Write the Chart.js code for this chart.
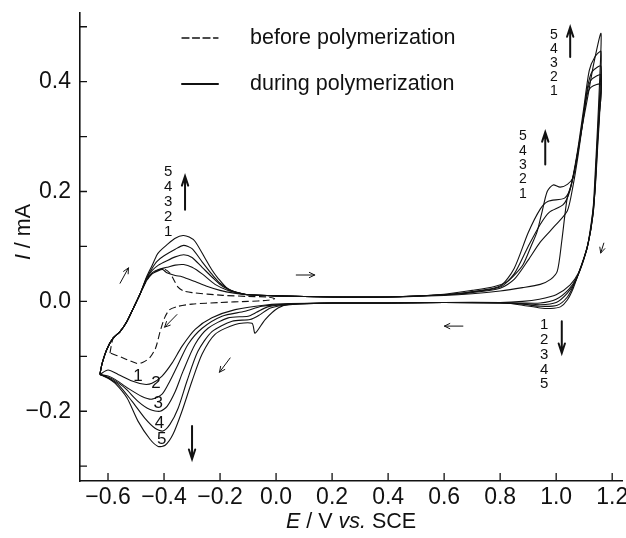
<!DOCTYPE html>
<html>
<head>
<meta charset="utf-8">
<script src="https://cdn.jsdelivr.net/npm/chart.js@4.4.1/dist/chart.umd.min.js"></script>
<style>
  html, body { margin: 0; padding: 0; background: #fff; }
  #wrap { width: 626px; height: 538px; }
</style>
</head>
<body>
<div id="wrap"><canvas id="cv"></canvas></div>
<script>
// axis ticks
const xTicks = [-0.6, -0.4, -0.2, 0.0, 0.2, 0.4, 0.6, 0.8, 1.0, 1.2];
const yTicks = [-0.3, -0.2, -0.1, 0.0, 0.1, 0.2, 0.3, 0.4, 0.5];
const yLabels = [-0.2, 0.0, 0.2, 0.4];

// [E / V, I / mA], in scan order
const before = [
  [-0.593,-0.094],[-0.582,-0.068],[-0.557,-0.055],[-0.532,-0.036],[-0.51,-0.013],[-0.486,0.013],
  [-0.462,0.038],[-0.44,0.052],[-0.415,0.058],[-0.396,0.058],[-0.38,0.052],[-0.371,0.045],
  [-0.35,0.026],[-0.33,0.019],[-0.3,0.016],[-0.19,0.011],[-0.1,0.009],[-0.03,0.008],[-0.005,0.005],
  [-0.03,0.002],[-0.1,0.0],[-0.2,-0.002],[-0.3,-0.005],[-0.35,-0.009],[-0.38,-0.015],[-0.398,-0.03],
  [-0.414,-0.055],[-0.43,-0.085],[-0.45,-0.102],[-0.475,-0.111],[-0.496,-0.113],[-0.546,-0.103],[-0.593,-0.094]
];

const cycle1 = [
  [-0.629,-0.133],[-0.621,-0.113],[-0.604,-0.087],[-0.582,-0.067],[-0.557,-0.055],[-0.532,-0.036],
  [-0.51,-0.013],[-0.486,0.013],[-0.462,0.038],[-0.443,0.05],[-0.42,0.056],[-0.405,0.058],[-0.39,0.052],
  [-0.36,0.047],[-0.336,0.045],[-0.289,0.036],[-0.25,0.028],[-0.2,0.02],[-0.15,0.015],[-0.1,0.012],
  [0.0,0.01],[0.2,0.008],[0.4,0.008],[0.6,0.011],[0.7,0.014],[0.8,0.019],[0.88,0.025],[0.943,0.031],
  [0.98,0.04],[1.004,0.055],[1.02,0.11],[1.039,0.187],[1.055,0.215],[1.075,0.262],[1.096,0.33],
  [1.11,0.375],[1.125,0.39],[1.16,0.395],
  [1.152,0.33],[1.145,0.27],[1.138,0.2],[1.128,0.15],[1.118,0.115],[1.1,0.08],[1.08,0.052],[1.05,0.03],
  [1.0,0.012],[0.94,0.004],[0.88,0.0],[0.8,-0.002],[0.6,-0.002],[0.4,-0.003],[0.2,-0.003],[0.05,-0.004],
  [-0.029,-0.006],[-0.146,-0.015],[-0.229,-0.03],[-0.289,-0.051],[-0.336,-0.082],[-0.371,-0.112],
  [-0.407,-0.136],[-0.443,-0.149],[-0.47,-0.151],[-0.514,-0.145],[-0.564,-0.133],[-0.6,-0.125],[-0.629,-0.133]
];

const cycle2 = [
  [-0.629,-0.133],[-0.621,-0.113],[-0.604,-0.087],[-0.582,-0.067],[-0.557,-0.055],[-0.532,-0.036],
  [-0.51,-0.013],[-0.486,0.013],[-0.462,0.04],[-0.443,0.052],[-0.42,0.058],[-0.39,0.062],[-0.36,0.066],
  [-0.33,0.067],[-0.3,0.062],[-0.264,0.05],[-0.218,0.031],[-0.171,0.02],[-0.13,0.015],[-0.1,0.012],
  [0.0,0.01],[0.2,0.008],[0.4,0.008],[0.6,0.012],[0.7,0.016],[0.8,0.024],[0.85,0.04],[0.9,0.075],
  [0.943,0.108],[1.0,0.14],[1.04,0.165],[1.06,0.21],[1.078,0.265],[1.096,0.33],[1.11,0.38],
  [1.125,0.403],[1.16,0.412],
  [1.155,0.34],[1.148,0.28],[1.14,0.21],[1.13,0.155],[1.116,0.11],[1.098,0.075],[1.075,0.045],
  [1.045,0.022],[1.0,0.004],[0.943,-0.003],[0.88,-0.003],[0.8,-0.002],[0.6,-0.002],[0.4,-0.003],
  [0.2,-0.003],[0.05,-0.005],[-0.05,-0.009],[-0.111,-0.018],[-0.193,-0.027],[-0.264,-0.049],
  [-0.314,-0.078],[-0.35,-0.115],[-0.379,-0.145],[-0.407,-0.169],[-0.443,-0.178],[-0.479,-0.173],
  [-0.529,-0.158],[-0.575,-0.142],[-0.6,-0.136],[-0.629,-0.133]
];

const cycle3 = [
  [-0.629,-0.133],[-0.621,-0.113],[-0.604,-0.087],[-0.582,-0.067],[-0.557,-0.055],[-0.532,-0.036],
  [-0.51,-0.013],[-0.486,0.013],[-0.462,0.042],[-0.443,0.056],[-0.42,0.066],[-0.39,0.074],[-0.36,0.081],
  [-0.33,0.085],[-0.3,0.08],[-0.264,0.062],[-0.22,0.04],[-0.19,0.027],[-0.15,0.018],[-0.1,0.012],
  [0.0,0.01],[0.2,0.008],[0.4,0.008],[0.6,0.012],[0.7,0.017],[0.8,0.026],[0.85,0.05],[0.9,0.1],
  [0.943,0.14],[0.975,0.162],[1.025,0.176],[1.048,0.2],[1.075,0.265],[1.096,0.335],[1.112,0.39],
  [1.128,0.418],[1.16,0.428],
  [1.155,0.35],[1.148,0.29],[1.14,0.215],[1.132,0.16],[1.114,0.105],[1.094,0.07],[1.07,0.038],
  [1.04,0.015],[1.0,-0.002],[0.943,-0.006],[0.88,-0.004],[0.8,-0.003],[0.6,-0.002],[0.4,-0.003],
  [0.2,-0.003],[0.05,-0.005],[-0.03,-0.01],[-0.07,-0.02],[-0.1,-0.027],[-0.171,-0.03],[-0.243,-0.049],
  [-0.289,-0.078],[-0.332,-0.127],[-0.36,-0.164],[-0.389,-0.191],[-0.414,-0.2],[-0.45,-0.197],
  [-0.493,-0.182],[-0.539,-0.158],[-0.582,-0.142],[-0.6,-0.138],[-0.629,-0.133]
];

const cycle4 = [
  [-0.629,-0.133],[-0.621,-0.113],[-0.604,-0.087],[-0.582,-0.067],[-0.557,-0.055],[-0.532,-0.036],
  [-0.51,-0.013],[-0.486,0.013],[-0.462,0.043],[-0.443,0.06],[-0.425,0.073],[-0.4,0.083],[-0.36,0.095],
  [-0.33,0.102],[-0.3,0.096],[-0.264,0.072],[-0.23,0.05],[-0.2,0.033],[-0.16,0.02],[-0.12,0.014],
  [-0.1,0.012],[0.0,0.01],[0.2,0.008],[0.4,0.008],[0.6,0.012],[0.7,0.018],[0.8,0.028],[0.85,0.06],
  [0.9,0.125],[0.943,0.168],[0.97,0.182],[1.03,0.188],[1.05,0.205],[1.075,0.27],[1.098,0.35],
  [1.118,0.42],[1.138,0.445],[1.16,0.455],
  [1.155,0.37],[1.148,0.3],[1.14,0.225],[1.132,0.16],[1.112,0.1],[1.09,0.065],[1.065,0.032],
  [1.04,0.008],[1.004,-0.007],[0.943,-0.009],[0.88,-0.005],[0.8,-0.003],[0.6,-0.002],[0.4,-0.003],
  [0.2,-0.003],[0.05,-0.006],[-0.02,-0.012],[-0.06,-0.025],[-0.093,-0.033],[-0.157,-0.036],
  [-0.229,-0.055],[-0.279,-0.091],[-0.318,-0.145],[-0.35,-0.195],[-0.379,-0.224],[-0.404,-0.236],
  [-0.432,-0.231],[-0.468,-0.213],[-0.514,-0.182],[-0.564,-0.151],[-0.6,-0.139],[-0.629,-0.133]
];

const cycle5 = [
  [-0.629,-0.133],[-0.621,-0.113],[-0.604,-0.087],[-0.582,-0.067],[-0.557,-0.055],[-0.532,-0.036],
  [-0.51,-0.013],[-0.486,0.013],[-0.462,0.045],[-0.443,0.065],[-0.425,0.085],[-0.414,0.092],
  [-0.39,0.103],[-0.36,0.115],[-0.332,0.12],[-0.31,0.117],[-0.289,0.109],[-0.254,0.079],[-0.23,0.058],
  [-0.207,0.042],[-0.171,0.022],[-0.136,0.015],[-0.1,0.012],[0.0,0.01],[0.2,0.008],[0.4,0.008],
  [0.6,0.013],[0.7,0.02],[0.78,0.027],[0.825,0.036],[0.855,0.05],[0.882,0.067],[0.91,0.1],
  [0.932,0.127],[0.95,0.164],[0.968,0.2],[0.989,0.212],[1.014,0.208],[1.04,0.213],[1.06,0.225],
  [1.075,0.267],[1.096,0.327],[1.114,0.376],[1.135,0.435],[1.16,0.488],
  [1.155,0.4],[1.148,0.32],[1.14,0.24],[1.132,0.17],[1.12,0.125],[1.11,0.096],[1.086,0.06],
  [1.061,0.024],[1.039,0.002],[1.015,-0.01],[0.98,-0.013],[0.943,-0.012],[0.88,-0.007],[0.82,-0.003],
  [0.6,-0.002],[0.4,-0.003],[0.2,-0.003],[0.05,-0.005],[0.007,-0.012],[-0.039,-0.033],[-0.075,-0.058],
  [-0.086,-0.04],[-0.146,-0.042],[-0.218,-0.06],[-0.264,-0.096],[-0.3,-0.145],[-0.336,-0.2],
  [-0.368,-0.242],[-0.396,-0.262],[-0.421,-0.264],[-0.45,-0.251],[-0.493,-0.218],[-0.532,-0.176],
  [-0.575,-0.149],[-0.6,-0.14],[-0.629,-0.133]
];

// cycle numbers and arrows written on the plot (data coordinates)
const notes = [
  // upper left stack
  ['5',-0.385,0.236,15],['4',-0.385,0.209,15],['3',-0.385,0.181,15],['2',-0.385,0.154,15],['1',-0.385,0.127,15],
  // cathodic peaks
  ['1',-0.493,-0.136,17],['2',-0.429,-0.149,17],['3',-0.421,-0.186,17],['4',-0.416,-0.222,17],['5',-0.408,-0.252,17],
  // upper right stack
  ['5',0.992,0.485,14],['4',0.992,0.459,14],['3',0.992,0.433,14],['2',0.992,0.408,14],['1',0.992,0.382,14],
  // middle right stack
  ['5',0.881,0.300,14],['4',0.881,0.274,14],['3',0.881,0.248,14],['2',0.881,0.222,14],['1',0.881,0.196,14],
  // lower right stack
  ['1',0.957,-0.043,15],['2',0.957,-0.070,15],['3',0.957,-0.097,15],['4',0.957,-0.124,15],['5',0.957,-0.151,15]
];
const arrows = [
  // [E0, I0, E1, I1, bold]
  [-0.325,0.167,-0.325,0.228,true],
  [-0.30,-0.227,-0.30,-0.287,true],
  [1.05,0.445,1.05,0.499,true],
  [0.961,0.249,0.961,0.308,true],
  [1.02,-0.036,1.02,-0.094,true],
  [-0.557,0.033,-0.527,0.061,false],
  [0.072,0.048,0.138,0.048,false],
  [-0.354,-0.024,-0.398,-0.047,false],
  [-0.164,-0.103,-0.202,-0.129,false],
  [0.667,-0.045,0.601,-0.045,false],
  [1.17,0.106,1.159,0.088,false]
];

const ink = '#111';
const fam = '"Liberation Sans", Arial, Helvetica, sans-serif';

function fmt(v) {
  const s = Math.abs(v) < 1e-9 ? '0.0' : v.toFixed(1);
  return s.replace('-', '\u2212');
}

function richText(ctx, parts, cx, cy, size) {
  let w = 0;
  parts.forEach(p => {
    ctx.font = (p[1] ? 'italic ' : '') + size + 'px ' + fam;
    w += ctx.measureText(p[0]).width;
  });
  let x0 = cx - w / 2;
  ctx.textAlign = 'left';
  ctx.textBaseline = 'middle';
  parts.forEach(p => {
    ctx.font = (p[1] ? 'italic ' : '') + size + 'px ' + fam;
    ctx.fillText(p[0], x0, cy);
    x0 += ctx.measureText(p[0]).width;
  });
}

function arrow(ctx, x0, y0, x1, y1, bold) {
  const ang = Math.atan2(y1 - y0, x1 - x0);
  const len = bold ? 10 : 6;
  const spread = bold ? 0.32 : 0.45;
  ctx.lineWidth = bold ? 2 : 1;
  ctx.beginPath();
  ctx.moveTo(x0, y0);
  ctx.lineTo(x1, y1);
  ctx.moveTo(x1 - len * Math.cos(ang - spread), y1 - len * Math.sin(ang - spread));
  ctx.lineTo(x1, y1);
  ctx.lineTo(x1 - len * Math.cos(ang + spread), y1 - len * Math.sin(ang + spread));
  ctx.stroke();
}

const decorations = {
  id: 'decorations',
  afterDraw(chart) {
    const { ctx, chartArea: a } = chart;
    const x = chart.scales.x, y = chart.scales.y;
    ctx.save();
    ctx.strokeStyle = ink;
    ctx.fillStyle = ink;

    // inward tick marks
    ctx.lineWidth = 1.3;
    ctx.beginPath();
    x.ticks.forEach(t => {
      const px = x.getPixelForValue(t.value);
      ctx.moveTo(px, a.bottom);
      ctx.lineTo(px, a.bottom - 8);
    });
    y.ticks.forEach(t => {
      const py = y.getPixelForValue(t.value);
      ctx.moveTo(a.left, py);
      ctx.lineTo(a.left + 7, py);
    });
    ctx.stroke();

    // arrows
    ctx.lineCap = 'round';
    arrows.forEach(r => arrow(ctx, x.getPixelForValue(r[0]), y.getPixelForValue(r[1]),
      x.getPixelForValue(r[2]), y.getPixelForValue(r[3]), r[4]));

    // cycle numbers
    ctx.textAlign = 'center';
    ctx.textBaseline = 'middle';
    notes.forEach(n => {
      ctx.font = n[3] + 'px ' + fam;
      ctx.fillText(n[0], x.getPixelForValue(n[1]), y.getPixelForValue(n[2]));
    });

    // legend
    const items = chart.data.datasets.filter(d => d.legend);
    items.forEach((d, i) => {
      const ly = 38 + i * 46;
      ctx.lineWidth = d.legendWidth;
      ctx.setLineDash(d.borderDash || []);
      ctx.beginPath();
      ctx.moveTo(182, ly);
      ctx.lineTo(218, ly);
      ctx.stroke();
      ctx.setLineDash([]);
      ctx.font = '21.5px ' + fam;
      ctx.textAlign = 'left';
      ctx.textBaseline = 'middle';
      ctx.fillText(d.label, 250, ly);
    });

    // axis titles
    richText(ctx, [['E', true], [' / V ', false], ['vs.', true], [' SCE', false]], 351, 522, 21.5);
    ctx.save();
    ctx.translate(24, 232);
    ctx.rotate(-Math.PI / 2);
    richText(ctx, [['I', true], [' / mA', false]], 0, 0, 21.5);
    ctx.restore();

    ctx.restore();
  }
};

function curve(label, pts, dash, legend) {
  return {
    label: label,
    data: pts.map(p => ({ x: p[0], y: p[1] })),
    showLine: true,
    borderColor: ink,
    borderWidth: 1.1,
    borderDash: dash,
    pointRadius: 0,
    tension: 0.25,
    fill: false,
    legend: legend,
    legendWidth: dash.length ? 1.3 : 2
  };
}

new Chart(document.getElementById('cv'), {
  type: 'scatter',
  data: {
    datasets: [
      curve('before polymerization', before, [7, 3.5], true),
      curve('during polymerization', cycle1, [], true),
      curve('cycle 2', cycle2, [], false),
      curve('cycle 3', cycle3, [], false),
      curve('cycle 4', cycle4, [], false),
      curve('cycle 5', cycle5, [], false)
    ]
  },
  options: {
    responsive: true,
    maintainAspectRatio: false,
    animation: false,
    devicePixelRatio: 1,
    layout: { padding: 0 },
    plugins: {
      legend: { display: false },
      tooltip: { enabled: false }
    },
    scales: {
      x: {
        type: 'linear',
        min: -0.7,
        max: 1.235,
        afterBuildTicks: s => { s.ticks = xTicks.map(v => ({ value: v })); },
        afterFit: s => { s.height = 57; s.paddingLeft = 0; s.paddingRight = 4; },
        ticks: {
          callback: v => fmt(v),
          color: ink,
          font: { family: fam, size: 23 },
          padding: 3,
          maxRotation: 0,
          autoSkip: false
        },
        grid: { display: false, drawTicks: false },
        border: { display: true, color: ink, width: 1.6 }
      },
      y: {
        type: 'linear',
        min: -0.327,
        max: 0.525,
        afterBuildTicks: s => { s.ticks = yTicks.map(v => ({ value: v })); },
        afterFit: s => { s.width = 80; s.paddingTop = 13; s.paddingBottom = 0; },
        ticks: {
          callback: v => yLabels.some(l => Math.abs(l - v) < 1e-9) ? fmt(v) : '',
          color: ink,
          font: { family: fam, size: 23 },
          padding: 9,
          autoSkip: false
        },
        grid: { display: false, drawTicks: false },
        border: { display: true, color: ink, width: 1.6 }
      }
    }
  },
  plugins: [decorations]
});
</script>
</body>
</html>
